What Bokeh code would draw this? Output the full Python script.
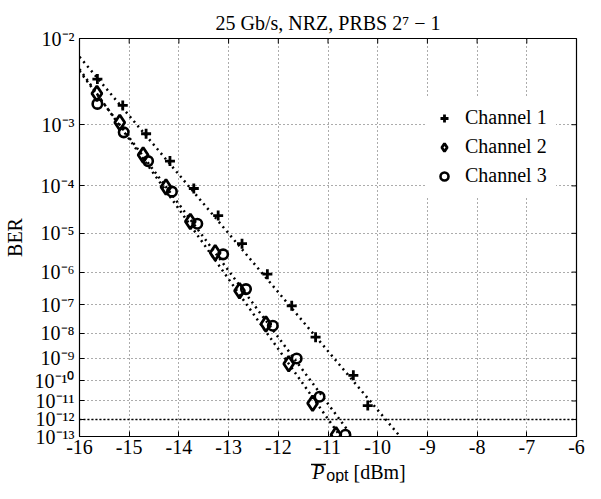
import math
from bokeh.plotting import figure
from bokeh.layouts import column
from bokeh.models import Range1d, FixedTicker, Legend, LegendItem
from bokeh.core.properties import value
from bokeh.embed import file_html
from bokeh.resources import INLINE

# ---------------- data ----------------
ch1_p = [-15.64, -15.13, -14.66, -14.18, -13.70, -13.21, -12.73, -12.22, -11.73, -11.25, -10.49, -10.20]
ch1_logber = [-2.42, -2.74, -3.13, -3.56, -4.05, -4.60, -5.25, -6.06, -7.03, -8.15, -9.75, -11.24]
ch2_p = [-15.65, -15.19, -14.72, -14.26, -13.77, -13.27, -12.78, -12.25, -11.79, -11.31, -10.84]
ch2_logber = [-2.59, -2.97, -3.46, -4.02, -4.73, -5.48, -6.55, -7.66, -9.23, -11.12, -12.89]
ch3_p = [-15.64, -15.11, -14.62, -14.14, -13.63, -13.11, -12.65, -12.11, -11.63, -11.17, -10.65]
ch3_logber = [-2.72, -3.11, -3.56, -4.11, -4.78, -5.52, -6.50, -7.72, -9.01, -10.78, -12.89]

fit1_p = [-16.0, -9.55]
fit1_logber = [-2.18, -13.0]
fit2_p = [-16.0, -10.75]
fit2_logber = [-2.31, -13.0]
fit3_p = [-16.0, -10.51]
fit3_logber = [-2.33, -13.0]

thr_p = [-16.0, -6.0]
thr_logber = [-12.0, -12.0]

x_ticks = [-16, -15, -14, -13, -12, -11, -10, -9, -8, -7, -6]
x_tick_labels = ["-16", "-15", "-14", "-13", "-12", "-11", "-10", "-9", "-8", "-7", "-6"]
y_tick_exps = [2, 3, 4, 5, 6, 7, 8, 9, 10, 11, 12, 13]
y_tick_labels = ["10\u207b\u00b2", "10\u207b\u00b3", "10\u207b\u2074", "10\u207b\u2075",
                 "10\u207b\u2076", "10\u207b\u2077", "10\u207b\u2078", "10\u207b\u2079",
                 "10\u207b\u00b9\u2070", "10\u207b\u00b9\u00b9", "10\u207b\u00b9\u00b2",
                 "10\u207b\u00b9\u00b3"]
legend_labels = ["Channel 1", "Channel 2", "Channel 3"]
title_text = "25 Gb/s, NRZ, PRBS 2\u2077 \u2212 1"
y_label = "BER"
x_label_parts = ["P", "opt", "[dBm]"]


def ty(logber):
    # BER axis: log10(-log10(BER)), drawn top-down
    return [math.log10(-v) for v in logber]


SERIF = "Liberation Serif"
SANS = "Liberation Sans"

W = 585
H_MAIN = 462
H_LAB = 21
B_LEFT, B_RIGHT, B_TOP = 76, 9, 38
FRAME_H = 398
B_BOTTOM = H_MAIN - B_TOP - FRAME_H
FRAME_W = W - B_LEFT - B_RIGHT

y_top = math.log10(2)
y_bot = math.log10(13)
x_lo, x_hi = -16, -6
ppu_x = FRAME_W / (x_hi - x_lo)
ppu_y = FRAME_H / (y_bot - y_top)
TICK = 5

p = figure(width=W, height=H_MAIN, output_backend="svg", toolbar_location=None,
           x_range=Range1d(x_lo, x_hi), y_range=Range1d(y_bot, y_top),
           min_border_left=B_LEFT, min_border_right=B_RIGHT,
           min_border_top=B_TOP, min_border_bottom=B_BOTTOM,
           background_fill_color="white", border_fill_color="white")

p.title.text = title_text
p.title.align = "center"
p.title.text_font = SERIF
p.title.text_font_size = "20px"
p.title.text_font_style = "normal"
p.title.text_color = "black"

xt = FixedTicker(ticks=x_ticks)
yvals = [math.log10(n) for n in y_tick_exps]
yt = FixedTicker(ticks=yvals)

p.xaxis.ticker = xt
p.yaxis.ticker = yt
p.xaxis.major_label_overrides = {t: s for t, s in zip(x_ticks, x_tick_labels)}
p.yaxis.major_label_overrides = {t: s for t, s in zip(yvals, y_tick_labels)}

for ax in (p.xaxis[0], p.yaxis[0]):
    ax.major_tick_in = TICK
    ax.major_tick_out = 0
    ax.minor_tick_line_color = None
    ax.axis_line_color = "black"
    ax.major_tick_line_color = "black"
    ax.major_label_text_font = SERIF
    ax.major_label_text_font_size = "20px"
    ax.major_label_text_color = "black"

p.xaxis.major_label_standoff = 3
p.yaxis.major_label_standoff = 5
p.yaxis.axis_label = y_label
p.yaxis.axis_label_text_font = SERIF
p.yaxis.axis_label_text_font_size = "20px"
p.yaxis.axis_label_text_font_style = "normal"
p.yaxis.axis_label_text_color = "black"
p.yaxis.axis_label_standoff = 6

p.outline_line_color = "black"
p.outline_line_width = 1.2

for g, tk in ((p.xgrid, xt), (p.ygrid, yt)):
    g.ticker = tk
    g.grid_line_color = "black"
    g.grid_line_alpha = 0.65
    g.grid_line_dash = "1 3"
    g.grid_line_width = 1

# inward ticks on the top and right edges of the box
p.segment(x0=x_ticks, y0=[y_top] * len(x_ticks), x1=x_ticks,
          y1=[y_top + TICK / ppu_y] * len(x_ticks), line_color="black", line_width=1)
p.segment(x0=[x_hi] * len(yvals), y0=yvals, x1=[x_hi - TICK / ppu_x] * len(yvals),
          y1=yvals, line_color="black", line_width=1)

# threshold line at 1e-12
p.line(thr_p, ty(thr_logber), line_color="black", line_width=1.6, line_dash="2 2")

# fit lines
for fp, fl in ((fit1_p, fit1_logber), (fit2_p, fit2_logber), (fit3_p, fit3_logber)):
    p.line(fp, ty(fl), line_color="black", line_width=2.5, line_dash="2 4", line_cap="butt")

r1 = p.scatter(ch1_p, ty(ch1_logber), marker="cross", size=10, line_color="black", line_width=2.8)
r2 = p.scatter(ch2_p, ty(ch2_logber), marker="diamond", size=15, line_color="black",
               line_width=2.8, fill_alpha=0)
r3 = p.scatter(ch3_p, ty(ch3_logber), marker="circle", size=9.5, line_color="black",
               line_width=2.6, fill_alpha=0)

legend = Legend(items=[LegendItem(label=legend_labels[0], renderers=[r1]),
                       LegendItem(label=legend_labels[1], renderers=[r2]),
                       LegendItem(label=legend_labels[2], renderers=[r3])],
                location=(346, 240), margin=0, padding=9, spacing=6,
                glyph_width=20, glyph_height=20, label_height=20, label_standoff=11,
                border_line_alpha=0, background_fill_color="white", background_fill_alpha=1,
                label_text_font=SERIF, label_text_font_size="20px", label_text_color="black")
p.add_layout(legend)

# ---- x axis label strip (overlined italic P, sans subscript "opt", [dBm]) ----
q = figure(width=W, height=H_LAB, output_backend="svg", toolbar_location=None,
           x_range=Range1d(0, W), y_range=Range1d(0, H_LAB),
           x_axis_type=None, y_axis_type=None, min_border=0,
           background_fill_color="white", border_fill_color="white",
           outline_line_color=None)
q.grid.visible = False
cx = B_LEFT + FRAME_W / 2
q.line([cx - 53.5, cx - 36], [H_LAB - 2, H_LAB - 2], line_color="black", line_width=1.3)
q.text(x=[cx - 52], y=[0.5], text=[x_label_parts[0]], text_font=value(SERIF),
       text_font_style="italic", text_font_size="20px", text_color="black",
       text_baseline="bottom", text_align="left")
q.text(x=[cx - 35.5], y=[0], text=[x_label_parts[1]], text_font=value(SANS),
       text_font_size="16px", text_color="black",
       text_baseline="bottom", text_align="left")
q.text(x=[cx - 3.5], y=[0.5], text=[x_label_parts[2]], text_font=value(SERIF),
       text_font_size="20px", text_color="black",
       text_baseline="bottom", text_align="left")

layout = column(p, q, spacing=0)
open("out.html", "w").write(file_html(layout, INLINE))
